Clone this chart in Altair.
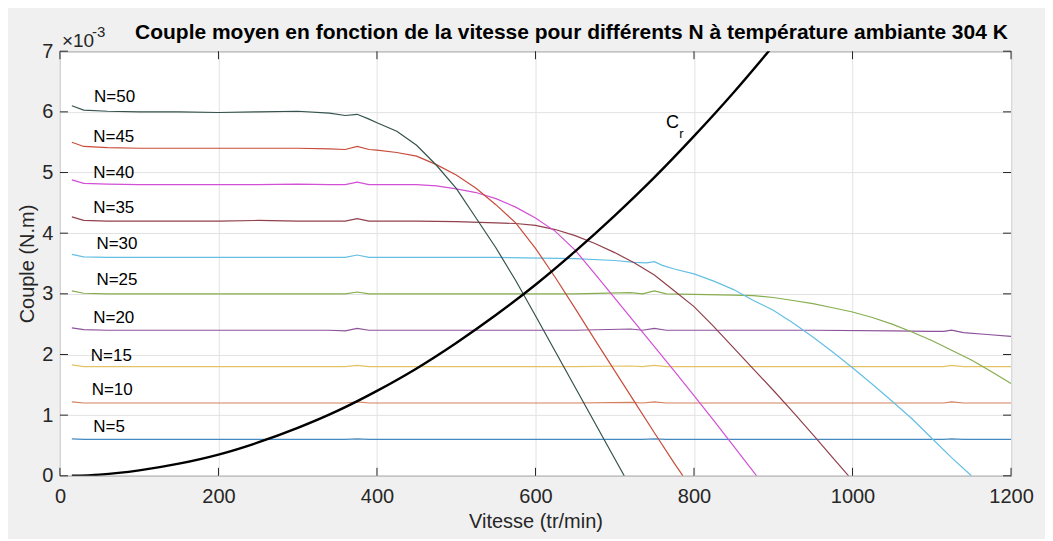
import altair as alt
import pandas as pd

# ---------------- data (y in units of 1e-3 N.m) ----------------
x_pre = [15, 30, 60, 100, 150, 200, 250, 300, 340, 360, 375, 390]

x_long = [15, 30, 60, 100, 150, 200, 250, 300, 340, 360, 375, 390, 450, 550, 650,
          720, 735, 750, 765, 850, 950, 1050, 1100, 1115, 1125, 1140, 1170, 1200]

n5_y = [0.61, 0.60, 0.60, 0.60, 0.60, 0.60, 0.60, 0.60, 0.60, 0.60, 0.61, 0.60, 0.60, 0.60,
        0.60, 0.60, 0.60, 0.61, 0.60, 0.60, 0.60, 0.60, 0.60, 0.60, 0.61, 0.60, 0.60, 0.60]
n10_y = [1.22, 1.20, 1.20, 1.20, 1.20, 1.20, 1.20, 1.20, 1.20, 1.20, 1.22, 1.20, 1.20, 1.20,
         1.20, 1.21, 1.20, 1.22, 1.20, 1.20, 1.20, 1.20, 1.20, 1.20, 1.22, 1.20, 1.20, 1.20]
n15_y = [1.83, 1.80, 1.80, 1.80, 1.80, 1.80, 1.80, 1.80, 1.80, 1.80, 1.82, 1.80, 1.80, 1.80,
         1.80, 1.81, 1.80, 1.82, 1.80, 1.80, 1.80, 1.80, 1.80, 1.80, 1.82, 1.80, 1.80, 1.80]
n20_y = [2.44, 2.41, 2.40, 2.40, 2.40, 2.40, 2.40, 2.40, 2.40, 2.39, 2.43, 2.40, 2.40, 2.40,
         2.40, 2.42, 2.40, 2.43, 2.40, 2.40, 2.40, 2.39, 2.38, 2.38, 2.40, 2.36, 2.33, 2.30]

n25_x = x_pre + [450, 550, 650, 720, 735, 750, 765, 800, 850, 875, 900, 925, 950, 975, 1000,
                 1025, 1050, 1075, 1100, 1125, 1150, 1175, 1200]
n25_y = [3.05, 3.01, 3.00, 3.00, 3.00, 3.00, 3.00, 3.00, 3.00, 3.00, 3.03, 3.00] + \
        [3.00, 3.00, 3.00, 3.02, 3.00, 3.05, 3.00, 2.99, 2.98, 2.97, 2.94, 2.89, 2.84, 2.77, 2.70,
         2.61, 2.50, 2.37, 2.23, 2.07, 1.91, 1.72, 1.52]

n30_x = x_pre + [450, 550, 650, 700, 725, 740, 750, 760, 775, 800, 825, 850, 875, 900, 925, 950,
                 975, 1000, 1025, 1050, 1075, 1100, 1125, 1150]
n30_y = [3.65, 3.61, 3.60, 3.60, 3.60, 3.60, 3.60, 3.60, 3.60, 3.60, 3.64, 3.60] + \
        [3.60, 3.60, 3.58, 3.55, 3.52, 3.51, 3.53, 3.47, 3.41, 3.33, 3.21, 3.07, 2.89, 2.73, 2.52,
         2.29, 2.04, 1.78, 1.51, 1.23, 0.94, 0.62, 0.30, 0.00]

n35_x = x_pre + [400, 450, 500, 550, 575, 600, 625, 650, 675, 700, 725, 750, 775, 800, 825, 850,
                 875, 900, 925, 950, 975, 995]
n35_y = [4.27, 4.21, 4.20, 4.20, 4.20, 4.20, 4.21, 4.20, 4.20, 4.20, 4.24, 4.20] + \
        [4.20, 4.20, 4.19, 4.17, 4.16, 4.13, 4.06, 3.96, 3.83, 3.68, 3.51, 3.31, 3.05, 2.79, 2.46,
         2.11, 1.76, 1.41, 1.05, 0.68, 0.30, 0.00]

n40_x = x_pre + [400, 425, 450, 475, 500, 525, 550, 575, 600, 625, 650, 675, 700, 725, 750, 775,
                 800, 825, 850, 879]
n40_y = [4.88, 4.82, 4.81, 4.80, 4.80, 4.80, 4.80, 4.81, 4.80, 4.80, 4.84, 4.80] + \
        [4.80, 4.80, 4.80, 4.78, 4.73, 4.67, 4.57, 4.43, 4.25, 4.03, 3.72, 3.33, 2.93, 2.53, 2.13,
         1.73, 1.32, 0.91, 0.49, 0.00]

n45_x = x_pre + [400, 425, 450, 475, 500, 525, 550, 575, 600, 625, 650, 675, 700, 725, 750, 775, 786]
n45_y = [5.50, 5.43, 5.41, 5.40, 5.40, 5.40, 5.40, 5.40, 5.39, 5.38, 5.43, 5.38] + \
        [5.37, 5.33, 5.27, 5.13, 4.96, 4.74, 4.47, 4.17, 3.75, 3.27, 2.76, 2.24, 1.73, 1.22, 0.71,
         0.21, 0.00]

n50_x = x_pre + [400, 425, 450, 475, 500, 525, 550, 575, 600, 625, 650, 675, 700, 712]
n50_y = [6.10, 6.03, 6.01, 6.00, 6.00, 5.99, 6.00, 6.01, 5.98, 5.94, 5.96, 5.88] + \
        [5.82, 5.68, 5.45, 5.12, 4.74, 4.25, 3.76, 3.22, 2.64, 2.05, 1.46, 0.87, 0.28, 0.00]

cr_x = [15, 50, 100, 150, 200, 250, 300, 350, 400, 450, 500, 550, 600, 650, 700, 750, 800, 850, 900]
cr_y = [0.00, 0.02, 0.09, 0.20, 0.35, 0.55, 0.79, 1.07, 1.40, 1.77, 2.19, 2.65, 3.15, 3.70,
        4.29, 4.92, 5.60, 6.32, 7.09]

names = ["N=5", "N=10", "N=15", "N=20", "N=25", "N=30", "N=35", "N=40", "N=45", "N=50"]
colors = ["#4589bf", "#d3815f", "#e3c263", "#8c539a", "#86ae4f", "#64bfe4",
          "#91404c", "#d24fd6", "#c84c3a", "#35524d"]

series_x = [x_long, x_long, x_long, x_long, n25_x, n30_x, n35_x, n40_x, n45_x, n50_x]
series_y = [n5_y, n10_y, n15_y, n20_y, n25_y, n30_y, n35_y, n40_y, n45_y, n50_y]

label_x = [42, 40, 39, 42, 46, 46, 42, 42, 42, 43]
label_y = [0.80, 1.41, 1.98, 2.60, 3.22, 3.82, 4.41, 5.00, 5.58, 6.24]

x_ticks = [0, 200, 400, 600, 800, 1000, 1200]
y_ticks = [0, 1, 2, 3, 4, 5, 6, 7]

title_text = "Couple moyen en fonction de la vitesse pour différents N à température ambiante 304  K"

# ---------------- tables ----------------
rows = []
for name, xs, ys in zip(names, series_x, series_y):
    for i, (a, b) in enumerate(zip(xs, ys)):
        rows.append({"serie": name, "x": a, "y": b, "o": i})
df = pd.DataFrame(rows)
cr = pd.DataFrame({"x": cr_x, "y": cr_y, "o": list(range(len(cr_x)))})
labels = pd.DataFrame({"t": names, "x": label_x, "y": label_y})

W, H = 952, 425
FONT = "Liberation Sans"
TXT = "#262626"

xscale = alt.Scale(domain=[0, 1200], nice=False, zero=False)
yscale = alt.Scale(domain=[0, 7], nice=False)

base_x = alt.X("x:Q", scale=xscale,
               axis=alt.Axis(values=x_ticks, format="d", title="Vitesse (tr/min)", grid=True,
                             gridColor="#e2e2e2", ticks=False, tickSize=0, domain=False,
                             labelFontSize=20, labelPadding=11, labelFont=FONT,
                             labelColor=TXT, titleFont=FONT, titleFontSize=20,
                             titleFontWeight="normal", titleColor=TXT, titlePadding=5,
                             labelFlush=False))
base_y = alt.Y("y:Q", scale=yscale,
               axis=alt.Axis(values=y_ticks, format="d", title="Couple (N.m)", grid=True,
                             gridColor="#e2e2e2", ticks=False, tickSize=0, domain=False,
                             labelFontSize=20, labelPadding=7, labelFont=FONT,
                             labelColor=TXT, titleFont=FONT, titleFontSize=20,
                             titleFontWeight="normal", titleColor=TXT, titlePadding=4,
                             labelFlush=False))

lines = alt.Chart(df).mark_line(strokeWidth=1.2, clip=True).encode(
    x=base_x, y=base_y,
    color=alt.Color("serie:N", scale=alt.Scale(domain=names, range=colors), legend=None),
    order="o:Q",
)

crline = alt.Chart(cr).mark_line(strokeWidth=2.4, color="black", clip=True,
                                 interpolate="monotone").encode(
    x="x:Q", y="y:Q", order="o:Q")

lab = alt.Chart(labels).mark_text(align="left", baseline="middle", font=FONT,
                                  fontSize=17, color="black").encode(
    x="x:Q", y="y:Q", text="t:N")

cr_lab = alt.Chart(pd.DataFrame({"t": ["C"]})).mark_text(
    align="center", baseline="middle", font=FONT, fontSize=18, color="black").encode(
    x=alt.value(613), y=alt.value(72), text="t:N")
cr_sub = alt.Chart(pd.DataFrame({"t": ["r"]})).mark_text(
    align="center", baseline="middle", font=FONT, fontSize=13, color="black").encode(
    x=alt.value(622), y=alt.value(83), text="t:N")

mult1 = alt.Chart(pd.DataFrame({"t": ["\u00d710"]})).mark_text(
    align="left", baseline="middle", font=FONT, fontSize=19, color=TXT).encode(
    x=alt.value(2), y=alt.value(-10), text="t:N")
mult2 = alt.Chart(pd.DataFrame({"t": ["-3"]})).mark_text(
    align="left", baseline="middle", font=FONT, fontSize=15, color=TXT).encode(
    x=alt.value(32), y=alt.value(-19), text="t:N")

ttl = alt.Chart(pd.DataFrame({"t": [title_text]})).mark_text(
    align="center", baseline="middle", font=FONT, fontSize=21, fontWeight="bold",
    color="black").encode(
    x=alt.value(W / 2 + 36), y=alt.value(-18), text="t:N")

xt = pd.DataFrame({"x": x_ticks})
yt = pd.DataFrame({"y": y_ticks})
tick_style = dict(color=TXT, strokeWidth=1)
tb = alt.Chart(xt).mark_rule(**tick_style).encode(x="x:Q", y=alt.value(H), y2=alt.value(H - 8))
tt = alt.Chart(xt).mark_rule(**tick_style).encode(x="x:Q", y=alt.value(0), y2=alt.value(8))
tl = alt.Chart(yt).mark_rule(**tick_style).encode(y="y:Q", x=alt.value(0), x2=alt.value(8))
tr = alt.Chart(yt).mark_rule(**tick_style).encode(y="y:Q", x=alt.value(W), x2=alt.value(W - 8))

chart = alt.layer(lines, crline, lab, cr_lab, cr_sub, mult1, mult2, ttl,
                  tb, tt, tl, tr).properties(
    width=W, height=H,
    autosize=alt.AutoSizeParams(type="none"),
    padding={"left": 52, "top": 43, "right": 34, "bottom": 63},
    background="#f0f0f0",
).configure_view(stroke=TXT, strokeWidth=1, fill="white")

chart.save("out.html", embed_options={"renderer": "svg", "actions": False})
